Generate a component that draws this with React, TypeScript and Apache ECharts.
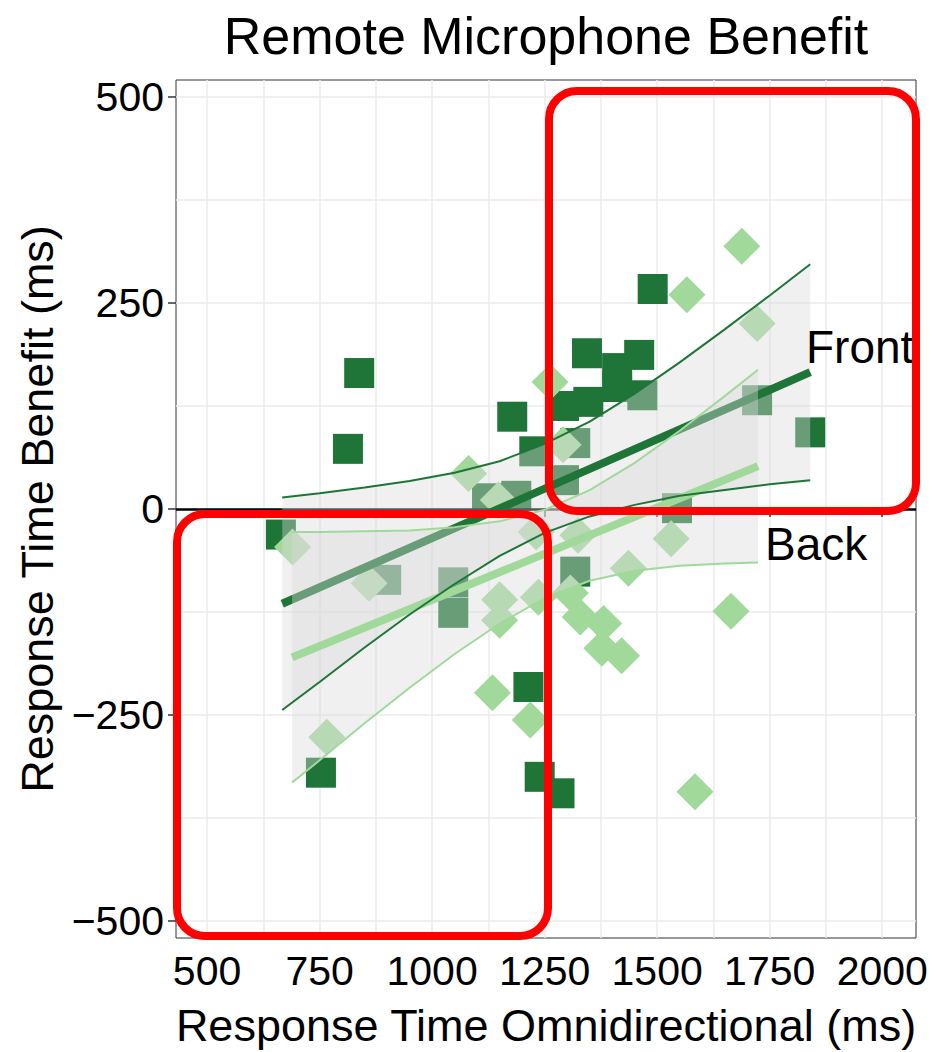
import React, { useEffect, useRef } from "react";
import * as echarts from "echarts";

const chartTitle = "Remote Microphone Benefit";
const xAxisName = "Response Time Omnidirectional (ms)";
const yAxisName = "Response Time Benefit (ms)";
const xMin = 431;
const xMax = 2075;
const yMin = -520.6;
const yMax = 520.6;
const xTicks = [500, 750, 1000, 1250, 1500, 1750, 2000];
const xGrid = [500, 625, 750, 875, 1000, 1125, 1250, 1375, 1500, 1625, 1750, 1875, 2000];
const yTicks = [-500, -250, 0, 250, 500];
const yGrid = [-500, -375, -250, -125, 0, 125, 250, 375, 500];

const groupNames = ["Front", "Back"];

// Front (dark squares)
const frontX = [838, 813, 1178, 1227, 664, 753, 1214, 1239, 1283, 1490, 1344, 1460, 1411, 1411, 1347, 1293, 1467, 1318, 1293, 1122, 1187, 1318, 1047, 1047, 898, 1722, 1840, 1544];
const frontY = [165, 73, 112, 70, -31, -320, -216, -325, -345, 267, 189, 187, 171, 148, 130, 125, 138, 80, 35, 13, 16, -76, -89, -126, -86, 132, 93, 1];

// Back (light diamonds)
const backX = [1688, 1566, 1722, 1262, 1081, 1147, 1291, 690, 860, 766, 1134, 1218, 1150, 1150, 1236, 1324, 1231, 1436, 1531, 1307, 1329, 1381, 1377, 1421, 1664, 1584];
const backY = [319, 260, 225, 154, 43, 11, 78, -46, -90, -277, -223, -256, -110, -135, -107, -32, -28, -72, -36, -102, -131, -139, -169, -178, -124, -343];

// fitted lines
const frontFitX = [667, 1840];
const frontFitY = [-115, 166];
const backFitX = [689, 1724];
const backFitY = [-180, 52];

// confidence bands
const frontBandX = [667, 750, 850, 950, 1050, 1150, 1250, 1350, 1450, 1550, 1650, 1750, 1840];
const frontUpper = [14, 19, 26, 34, 44, 58, 79, 106, 140, 178, 218, 259, 297];
const frontLower = [-244, -210, -168, -128, -91, -57, -29, -9, 5, 16, 23, 30, 35];
const backBandX = [689, 750, 850, 950, 1050, 1150, 1250, 1350, 1450, 1550, 1650, 1724];
const backUpper = [-28, -28, -27, -26, -22, -15, -1, 23, 56, 95, 137, 169];
const backLower = [-332, -305, -260, -217, -176, -139, -108, -87, -75, -69, -66, -65];

const FONT = "'Liberation Sans', Arial, Helvetica, sans-serif";
const DARK = "#1e7537";
const LIGHT = "#a1d99b";
const RIBBON = "rgba(217,217,217,0.4)";

const pairs = (xs: number[], ys: number[]) => xs.map((x, i) => [x, ys[i]]);
const fmt = (v: number) => String(v).replace("-", "\u2212");

function ribbon(name: string, xs: number[], up: number[], lo: number[], z: number) {
  return {
    type: "custom",
    name,
    z,
    silent: true,
    data: xs.map((x, i) => [x, lo[i], up[i]]),
    encode: { x: 0, y: [1, 2] },
    renderItem: (params: any, api: any) => {
      if (params.dataIndex !== 0) return null;
      const pts: number[][] = [];
      for (let i = 0; i < xs.length; i++) pts.push(api.coord([xs[i], up[i]]));
      for (let i = xs.length - 1; i >= 0; i--) pts.push(api.coord([xs[i], lo[i]]));
      return { type: "polygon", shape: { points: pts }, style: { fill: RIBBON } };
    },
  };
}

function line(name: string, xs: number[], ys: number[], color: string, width: number, z: number) {
  return {
    type: "line",
    name,
    z,
    silent: true,
    data: pairs(xs, ys),
    symbol: "none",
    lineStyle: { color, width, cap: "butt" },
    animation: false,
  };
}

export default function App() {
  const ref = useRef<HTMLDivElement>(null);
  useEffect(() => {
    if (!ref.current) return;
    const chart = echarts.init(ref.current, undefined, { renderer: "svg" });
    const option: any = {
      animation: false,
      backgroundColor: "#ffffff",
      grid: {
        left: 176,
        right: 21,
        top: 80,
        bottom: 114,
        show: true,
        borderColor: "#333333",
        borderWidth: 1,
        backgroundColor: "transparent",
        containLabel: false,
        outerBoundsMode: "none",
      },
      xAxis: [
        {
          type: "value",
          min: xMin,
          max: xMax,
          position: "bottom",
          axisLine: { show: false },
          splitLine: { show: false },
          axisTick: { show: true, customValues: xTicks, length: 8, lineStyle: { color: "#333", width: 1.5 } },
          axisLabel: { customValues: xTicks, formatter: fmt, fontSize: 41, color: "#000", margin: 12, fontFamily: FONT },
          name: xAxisName,
          nameLocation: "middle",
          nameGap: 65,
          nameTextStyle: { fontSize: 45, color: "#000", fontFamily: FONT },
        },
        {
          type: "value",
          min: xMin,
          max: xMax,
          position: "top",
          axisLine: { show: false },
          axisTick: { show: false, customValues: xGrid },
          axisLabel: { show: false },
          splitLine: { show: true, lineStyle: { color: "#ebebeb", width: 1.5 } },
        },
      ],
      yAxis: [
        {
          type: "value",
          min: yMin,
          max: yMax,
          position: "left",
          axisLine: { show: false },
          splitLine: { show: false },
          axisTick: { show: true, customValues: yTicks, length: 8, lineStyle: { color: "#333", width: 1.5 } },
          axisLabel: { customValues: yTicks, formatter: fmt, fontSize: 41, color: "#000", margin: 12, fontFamily: FONT },
          name: yAxisName,
          nameLocation: "middle",
          nameGap: 116,
          nameRotate: 90,
          nameTextStyle: { fontSize: 45, color: "#000", fontFamily: FONT },
        },
        {
          type: "value",
          min: yMin,
          max: yMax,
          position: "right",
          axisLine: { show: false },
          axisTick: { show: false, customValues: yGrid },
          axisLabel: { show: false },
          splitLine: { show: true, lineStyle: { color: "#ebebeb", width: 1.5 } },
        },
      ],
      series: [
        {
          type: "scatter",
          name: groupNames[0],
          z: 2,
          silent: true,
          symbol: "rect",
          symbolSize: 30,
          itemStyle: { color: DARK, opacity: 1 },
          data: pairs(frontX, frontY),
        },
        {
          type: "scatter",
          name: groupNames[1],
          z: 2,
          silent: true,
          symbol: "diamond",
          symbolSize: 37,
          itemStyle: { color: LIGHT, opacity: 1 },
          data: pairs(backX, backY),
        },
        {
          type: "line",
          name: "zero",
          z: 3,
          silent: true,
          data: [],
          markLine: {
            silent: true,
            z: 3,
            symbol: ["none", "none"],
            label: { show: false },
            lineStyle: { color: "#000", width: 2.5, type: "solid" },
            data: [{ yAxis: 0 }],
          },
        },
        ribbon("frontBand", frontBandX, frontUpper, frontLower, 4),
        line("frontFit", frontFitX, frontFitY, DARK, 8, 5),
        ribbon("backBand", backBandX, backUpper, backLower, 6),
        line("backFit", backFitX, backFitY, LIGHT, 8, 7),
        line("frontUpper", frontBandX, frontUpper, DARK, 2, 8),
        line("frontLower", frontBandX, frontLower, DARK, 2, 8),
        line("backUpper", backBandX, backUpper, LIGHT, 2, 8),
        line("backLower", backBandX, backLower, LIGHT, 2, 8),
      ],
      graphic: [
        {
          type: "text",
          x: 546,
          y: 36,
          z: 50,
          style: { text: chartTitle, fontSize: 52, fill: "#000", align: "center", verticalAlign: "middle", fontFamily: FONT },
        },
        {
          type: "text",
          x: 806,
          y: 347,
          z: 50,
          style: { text: groupNames[0], fontSize: 46, fill: "#000", align: "left", verticalAlign: "middle", fontFamily: FONT },
        },
        {
          type: "text",
          x: 765,
          y: 544,
          z: 50,
          style: { text: groupNames[1], fontSize: 46, fill: "#000", align: "left", verticalAlign: "middle", fontFamily: FONT },
        },
        {
          type: "rect",
          z: 100,
          shape: { x: 549, y: 91, width: 367, height: 420, r: 28 },
          style: { fill: "none", stroke: "#ff0000", lineWidth: 8 },
        },
        {
          type: "rect",
          z: 100,
          shape: { x: 177, y: 514, width: 371, height: 422, r: 28 },
          style: { fill: "none", stroke: "#ff0000", lineWidth: 8 },
        },
      ],
    };
    chart.setOption(option);
    return () => chart.dispose();
  }, []);
  return (
    <div
      ref={ref}
      style={{ position: "fixed", left: 0, top: 0, width: 937, height: 1052, background: "#fff" }}
    />
  );
}
